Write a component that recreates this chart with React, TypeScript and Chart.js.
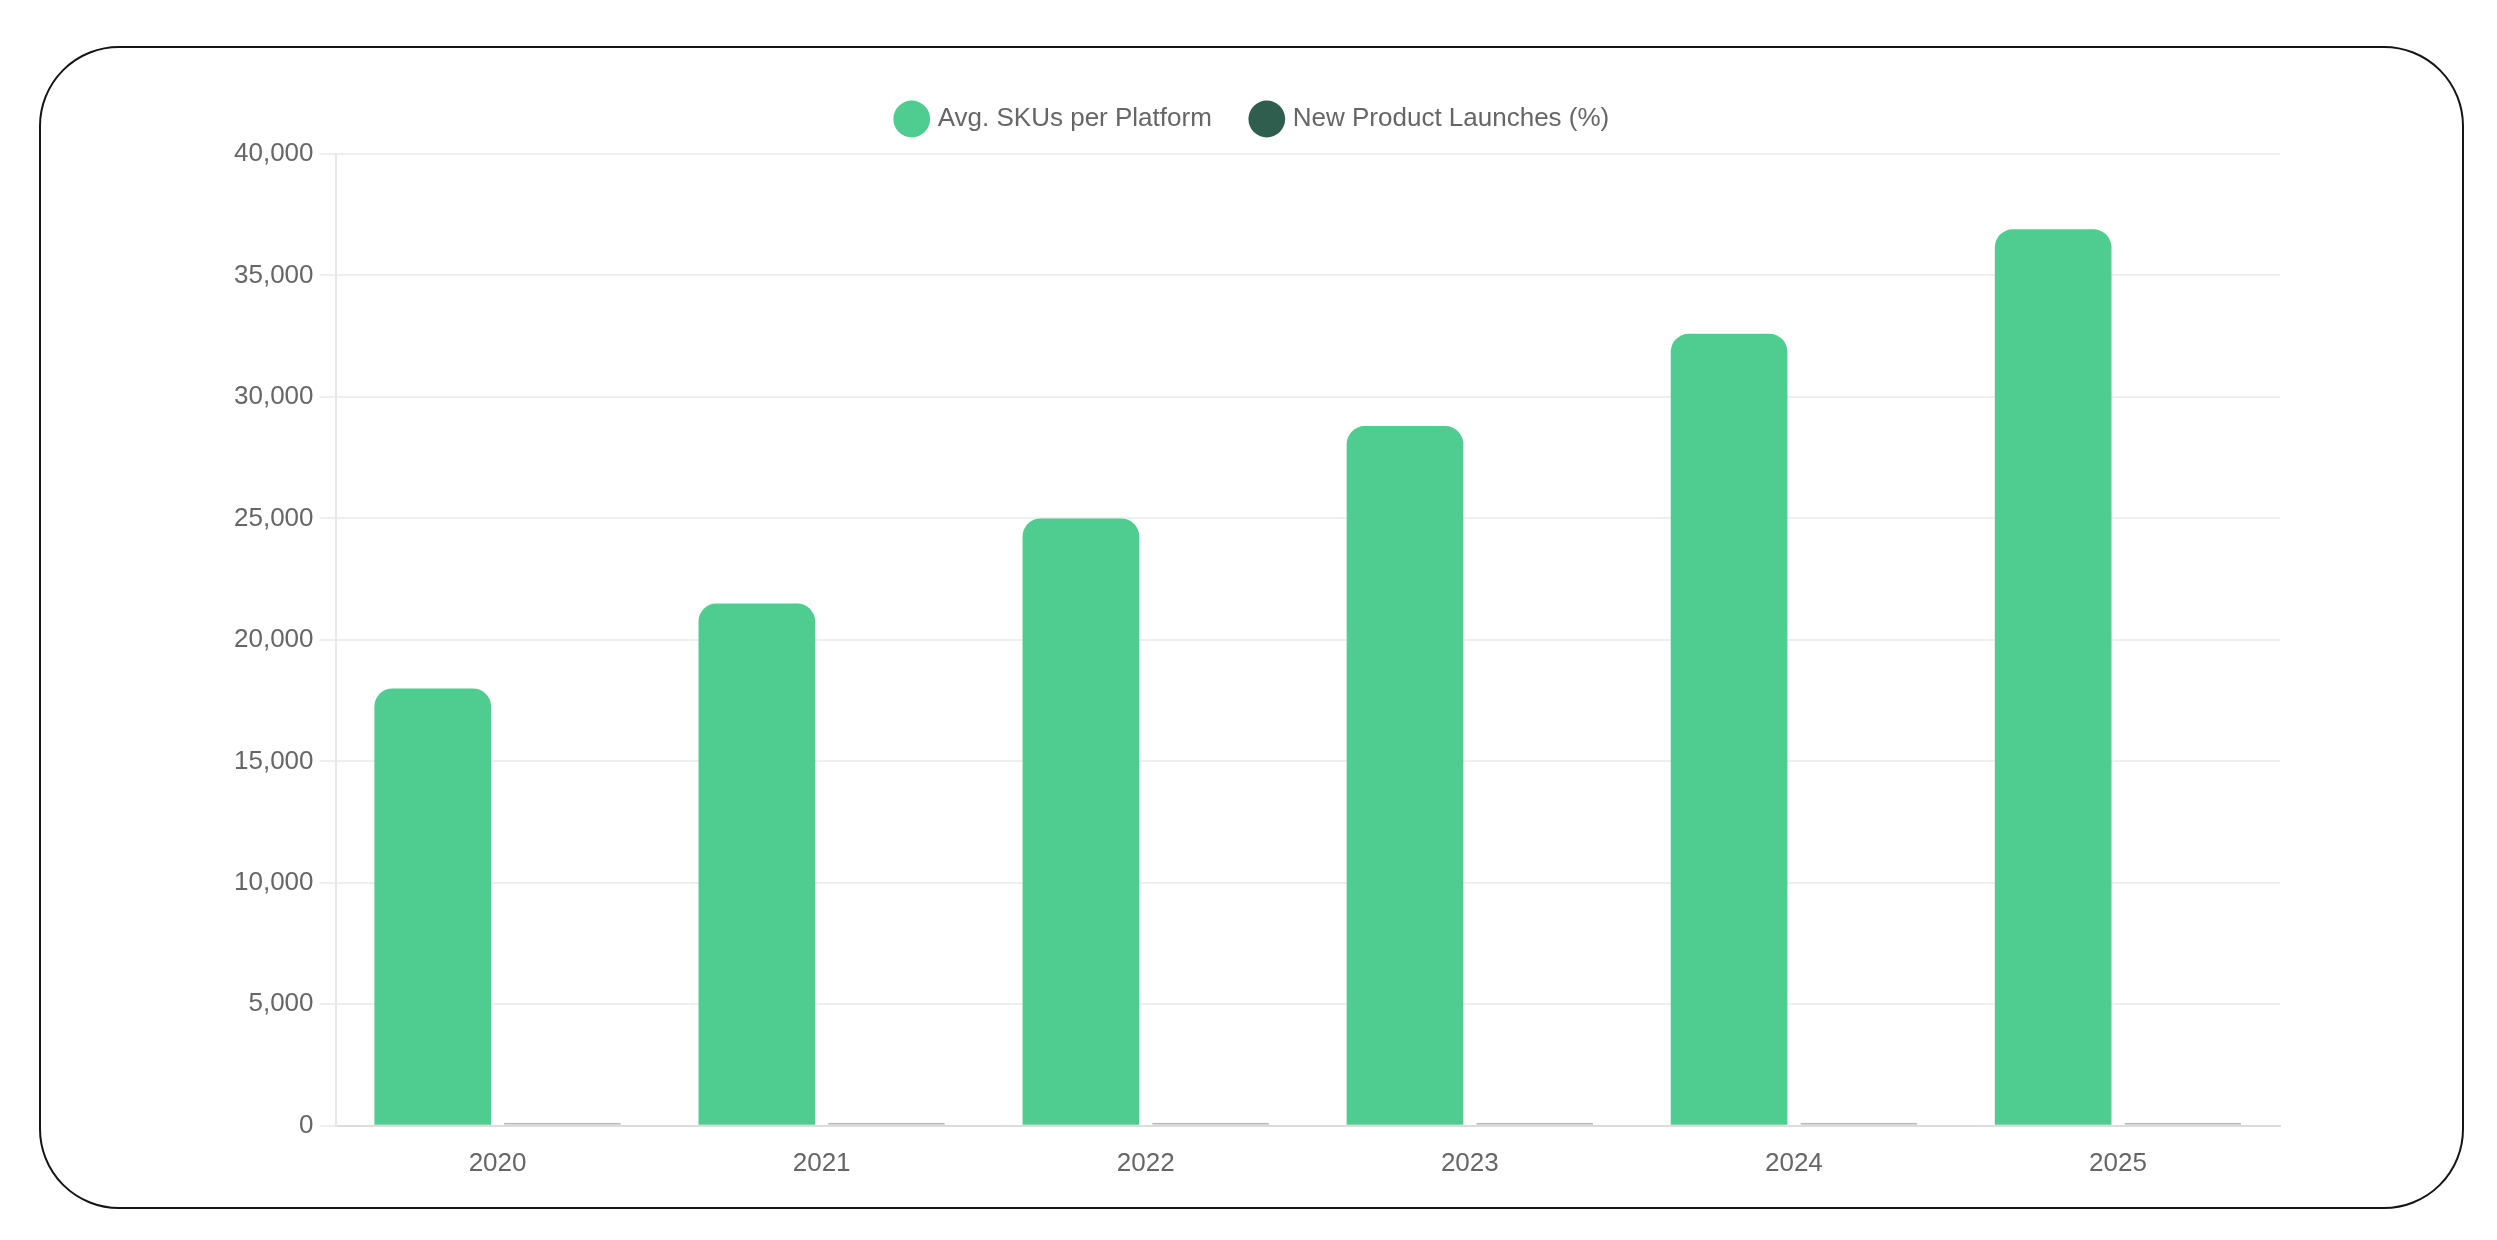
import React, { useEffect, useRef } from "react";
import { Chart, registerables } from "chart.js";

Chart.register(...registerables);

const categories = ["2020", "2021", "2022", "2023", "2024", "2025"];
const avgSkus = [18000, 21500, 25000, 28800, 32600, 36900];
const newLaunchesPct = [12, 15, 18, 22, 25, 28];
const seriesNames = ["Avg. SKUs per Platform", "New Product Launches (%)"];
const yTicks = { min: 0, max: 40000, step: 5000 };

const FONT = "'Liberation Sans', Arial, Helvetica, sans-serif";

const legendSpacer = {
  id: "legendSpacer",
  beforeInit(chart: any) {
    const orig = chart.legend.fit;
    chart.legend.fit = function () {
      orig.bind(chart.legend)();
      this.height += 12;
    };
  },
};

export default function App() {
  const ref = useRef<HTMLCanvasElement | null>(null);

  useEffect(() => {
    if (!ref.current) return;
    const chart = new Chart(ref.current, {
      type: "bar",
      data: {
        labels: categories,
        datasets: [
          {
            label: seriesNames[0],
            data: avgSkus,
            backgroundColor: "#4fcd91",
            borderRadius: 18,
            borderSkipped: "start",
          },
          {
            label: seriesNames[1],
            data: newLaunchesPct,
            backgroundColor: "#2f5e4e",
            borderColor: "#b8b8b8",
            borderWidth: 2,
            borderSkipped: false,
            minBarLength: 3,
          },
        ],
      },
      options: {
        animation: false,
        responsive: false,
        devicePixelRatio: 1,
        layout: { padding: { top: 15, bottom: 20, left: 186, right: 180 } },
        plugins: {
          legend: {
            position: "top",
            labels: {
              usePointStyle: true,
              pointStyle: "circle",
              padding: 42,
              color: "#666",
              font: { family: FONT, size: 26 },
              generateLabels(chart: any) {
                const items = Chart.defaults.plugins.legend.labels.generateLabels(chart);
                return items.map((it: any) => ({ ...it, lineWidth: 0 }));
              },
            },
          },
          tooltip: { enabled: false },
        },
        scales: {
          x: {
            grid: { display: false, tickLength: 16 },
            border: { display: true, color: "#dcdcdc", width: 2 },
            ticks: { color: "#666", padding: 6, font: { family: FONT, size: 26 } },
          },
          y: {
            min: yTicks.min,
            max: yTicks.max,
            grid: { color: "#efefef", lineWidth: 2, tickLength: 16 },
            border: { display: true, color: "#e8e8e8", width: 2 },
            ticks: {
              stepSize: yTicks.step,
              color: "#666",
              padding: 6,
              font: { family: FONT, size: 26 },
            },
          },
        },
      },
      plugins: [legendSpacer],
    } as any);
    return () => chart.destroy();
  }, []);

  return (
    <div>
      <div
        style={{
          position: "absolute",
          left: 38.5,
          top: 45.5,
          width: 2425,
          height: 1163,
          boxSizing: "border-box",
          border: "2.5px solid #151515",
          borderRadius: 80,
          background: "#fff",
        }}
      />
      <canvas
        ref={ref}
        width={2418}
        height={1156}
        style={{ position: "absolute", left: 42, top: 49, width: 2418, height: 1156 }}
      />
    </div>
  );
}
